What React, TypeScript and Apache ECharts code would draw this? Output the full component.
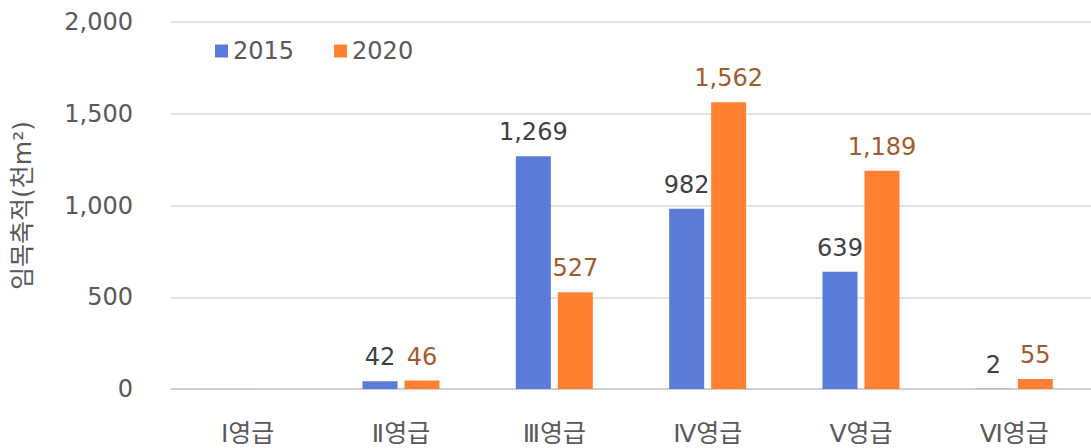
import React, { useEffect, useRef } from "react";
import * as echarts from "echarts";

const categories = ["Ⅰ영급", "Ⅱ영급", "Ⅲ영급", "Ⅳ영급", "Ⅴ영급", "Ⅵ영급"];
const values2015: (number | null)[] = [null, 42, 1269, 982, 639, 2];
const values2020: (number | null)[] = [null, 46, 527, 1562, 1189, 55];
const seriesNames = ["2015", "2020"];
const yAxisName = "임목축적(천m²)";

const FONT = "'DejaVu Sans', 'Noto Sans CJK KR', sans-serif";

export default function App() {
  const ref = useRef<HTMLDivElement>(null);
  useEffect(() => {
    document.body.style.margin = "0";
    const chart = echarts.init(ref.current!, null, { renderer: "svg" });
    const fmt = (p: any) =>
      p.value == null ? "" : Number(p.value).toLocaleString("en-US");
    chart.setOption({
      animation: false,
      textStyle: { fontFamily: FONT },
      grid: { left: 171, top: 22, width: 924, bottom: 59, containLabel: false },
      legend: {
        left: 210,
        top: 34,
        itemWidth: 13,
        itemHeight: 13,
        itemGap: 40,
        icon: "rect",
        textStyle: { fontSize: 24, color: "#595959", fontFamily: FONT },
        data: seriesNames,
      },
      xAxis: {
        type: "category",
        data: categories,
        axisTick: { show: false },
        axisLine: { lineStyle: { color: "#c8c8c8", width: 1.5 } },
        axisLabel: { fontSize: 25, color: "#595959", margin: 32, fontFamily: FONT },
      },
      yAxis: {
        type: "value",
        min: 0,
        max: 2000,
        interval: 500,
        name: yAxisName,
        nameLocation: "middle",
        nameGap: 136,
        nameTextStyle: { fontSize: 25, color: "#595959", fontFamily: FONT },
        axisLabel: {
          fontSize: 24,
          color: "#595959",
          margin: 38,
          formatter: (v: number) => v.toLocaleString("en-US"),
          fontFamily: FONT,
        },
        splitLine: { lineStyle: { color: "#d9d9d9", width: 1.5 } },
      },
      series: [
        {
          name: seriesNames[0],
          type: "bar",
          data: values2015,
          barWidth: 35,
          barGap: "20%",
          itemStyle: { color: "#5A7CD8" },
          label: {
            show: true,
            position: "top",
            distance: 12,
            fontSize: 24,
            color: "#404040",
            formatter: fmt,
            fontFamily: FONT,
          },
        },
        {
          name: seriesNames[1],
          type: "bar",
          data: values2020,
          barWidth: 35,
          barGap: "20%",
          itemStyle: { color: "#FF8030" },
          label: {
            show: true,
            position: "top",
            distance: 12,
            fontSize: 24,
            color: "#A35A2C",
            formatter: fmt,
            fontFamily: FONT,
          },
        },
      ],
    });
    return () => chart.dispose();
  }, []);
  return <div ref={ref} style={{ width: 1091, height: 448 }} />;
}
